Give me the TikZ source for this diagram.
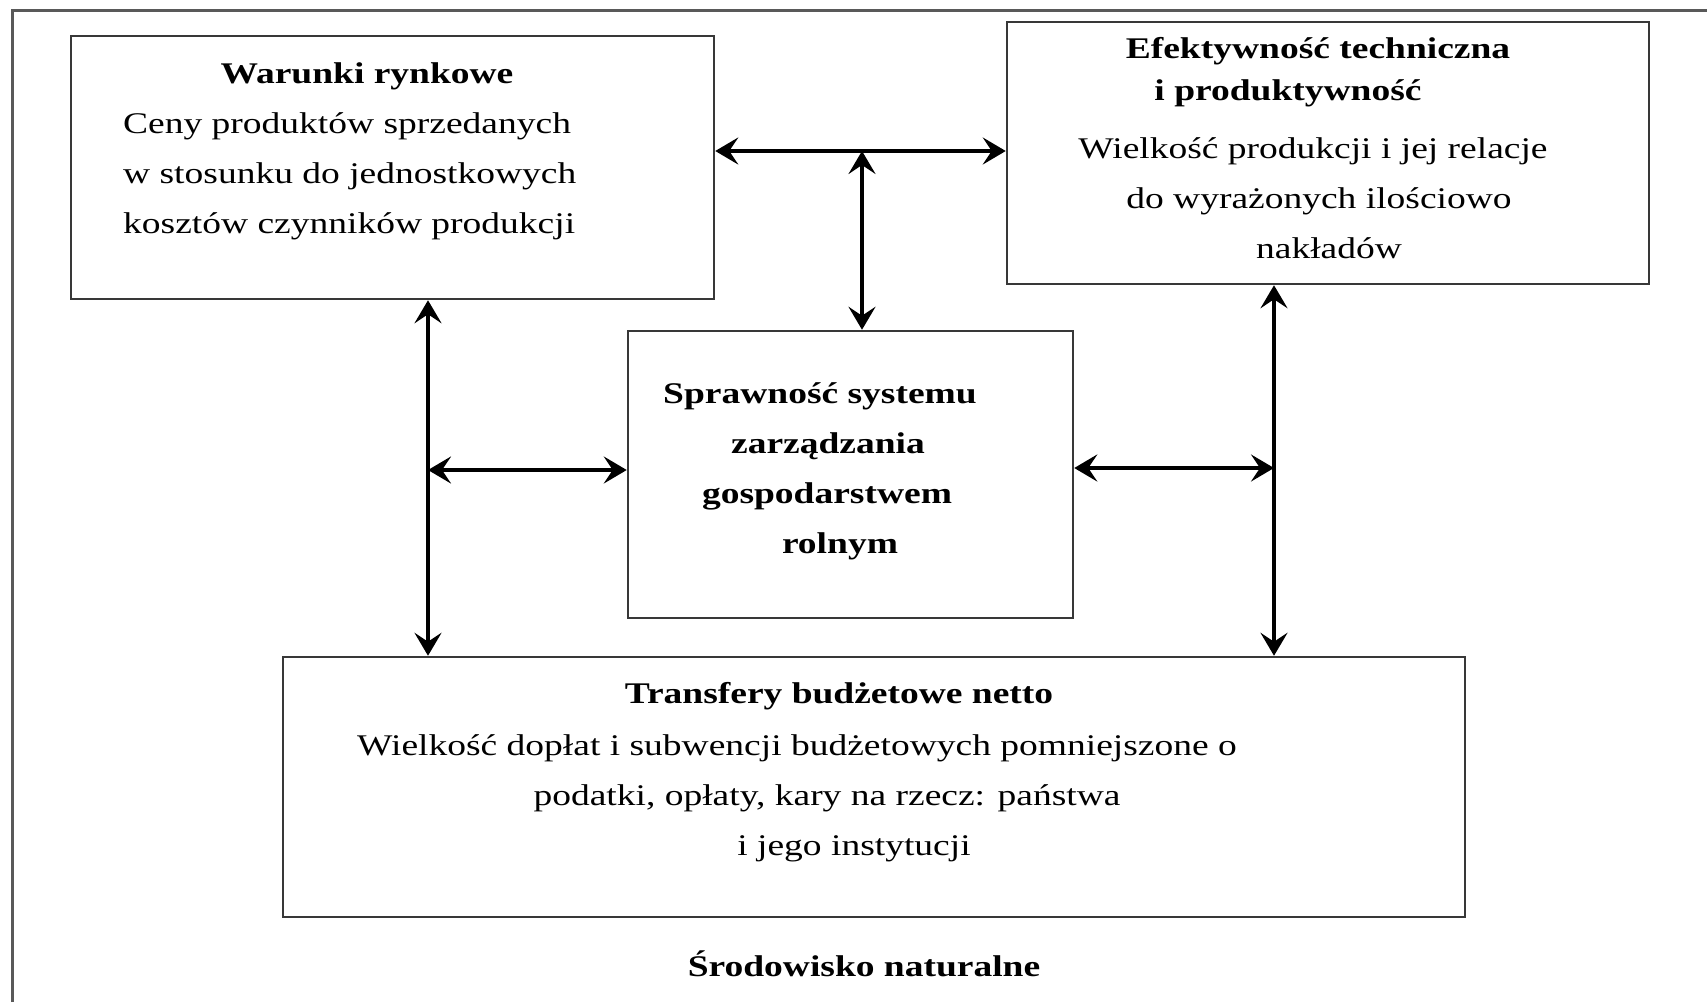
\documentclass[tikz,border=0pt]{standalone}
\usepackage{fontspec}
\setmainfont{Liberation Serif}[FakeStretch=1.25]
\usetikzlibrary{arrows.meta}
\tikzset{
  box/.style={draw=black!78, line width=2.5pt, inner sep=0pt, fill=none},
  arr/.style={line width=4.5pt, black, {Stealth[length=23pt,width=27pt,inset=9pt]}-{Stealth[length=23pt,width=27pt,inset=9pt]}},
  frameline/.style={draw=black!65, line width=3pt},
  txt/.style={anchor=base, inner sep=0pt, font=\fontsize{30}{50}\selectfont},
  ttl/.style={anchor=base, inner sep=0pt, font=\fontsize{30}{50}\selectfont\bfseries},
}
\begin{document}
\begin{tikzpicture}[x=1pt,y=-1pt]
\fill[white] (0,0) rectangle (1707,1002);
\useasboundingbox (0,0) rectangle (1707,1002);
\draw[frameline] (12,1002) -- (12,10) -- (1707,10);

% boxes
\node[box, minimum width=643pt, minimum height=263pt] (b1) at (392.5,167.5) {};
\node[box, minimum width=642pt, minimum height=262pt] (b2) at (1328,153) {};
\node[box, minimum width=445pt, minimum height=287pt] (b3) at (850.5,474.5) {};
\node[box, minimum width=1182pt, minimum height=260pt] (b4) at (874,787) {};

% box 1 text
\node[ttl] (t1a) at (367,83) {Warunki rynkowe};
\node[txt, anchor=base west] (t1b) at (123,133) {Ceny produktów sprzedanych};
\node[txt, anchor=base west] (t1c) at (123,183) {w stosunku do jednostkowych};
\node[txt, anchor=base west] (t1d) at (123,233) {kosztów czynników produkcji};

% box 2 text
\node[ttl] (t2a) at (1318,58) {Efektywność techniczna};
\node[ttl] (t2b) at (1288,100) {i produktywność};
\node[txt] (t2c) at (1313,158) {Wielkość produkcji i jej relacje};
\node[txt] (t2d) at (1319,208) {do wyrażonych ilościowo};
\node[txt] (t2e) at (1329,258) {nakładów};

% box 3 text
\node[ttl] (t3a) at (820,403) {Sprawność systemu};
\node[ttl] (t3b) at (828,453) {zarządzania};
\node[ttl] (t3c) at (827,503) {gospodarstwem};
\node[ttl] (t3d) at (840,553) {rolnym};

% box 4 text
\node[ttl] (t4a) at (839,703) {Transfery budżetowe netto};
\node[txt] (t4b) at (797,755) {Wielkość dopłat i subwencji budżetowych pomniejszone o};
\node[txt] (t4c) at (827,805) {podatki, opłaty, kary na rzecz: państwa};
\node[txt] (t4d) at (854,855) {i jego instytucji};

% bottom label
\node[ttl] (env) at (864,976) {Środowisko naturalne};

% connectors
\coordinate (tj) at (862,151);
\coordinate (lx) at (428,470);
\coordinate (rx) at (1274,468);
\draw[arr] (tj -| b1.east) -- (tj -| b2.west);
\draw[arr] (tj) -- (tj |- b3.north);
\draw[arr] (lx |- b1.south) -- (lx |- b4.north);
\draw[arr] (lx) -- (lx -| b3.west);
\draw[arr] (rx |- b2.south) -- (rx |- b4.north);
\draw[arr] (rx -| b3.east) -- (rx);
\end{tikzpicture}
\end{document}
